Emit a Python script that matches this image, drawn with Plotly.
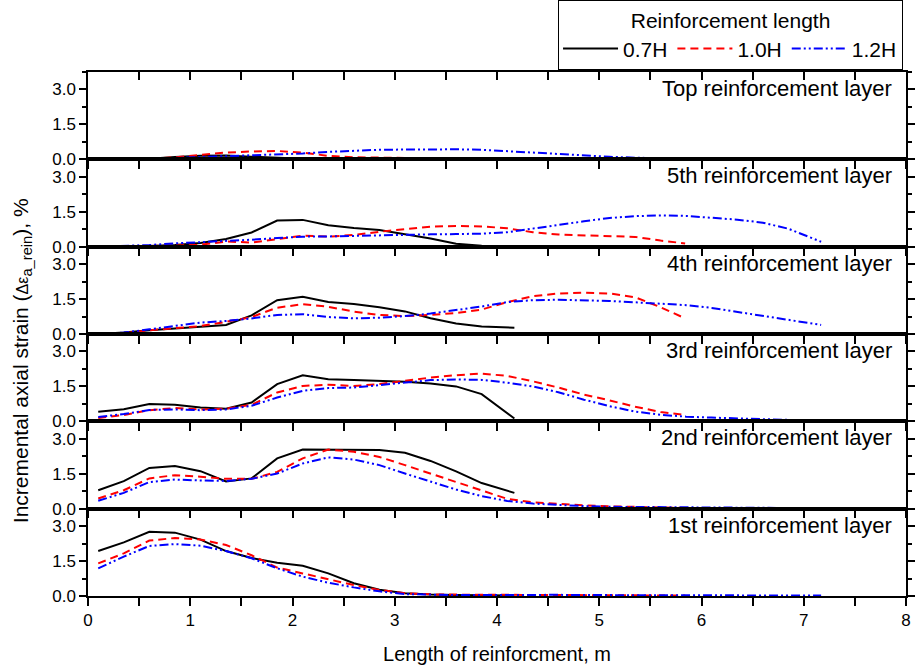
import plotly.graph_objects as go
from plotly.subplots import make_subplots

# Positions along the reinforcement (m) for each reinforcement length
X_07H = [0.1, 0.35, 0.6, 0.85, 1.1, 1.35, 1.6, 1.85, 2.1, 2.35, 2.6, 2.85, 3.1, 3.35, 3.6, 3.85, 4.17]
X_10H = X_07H[:-1] + [4.1, 4.35, 4.6, 4.85, 5.1, 5.35, 5.6, 5.84]
X_12H = X_07H[:-1] + [4.1, 4.35, 4.6, 4.85, 5.1, 5.35, 5.6, 5.85, 6.1, 6.35, 6.6, 6.85, 7.17]

SERIES = ["0.7H", "1.0H", "1.2H"]
LAYER_NAMES = ["Top reinforcement layer", "5th reinforcement layer", "4th reinforcement layer",
               "3rd reinforcement layer", "2nd reinforcement layer", "1st reinforcement layer"]

# Incremental axial strain (%) -- top layer
TOP_07H = [0.0, 0.0, 0.02, 0.10, 0.15, 0.16, 0.11, 0.05, 0.02, 0.01, 0.01, 0.03, 0.05, 0.03, 0.01, 0.0, 0.0]
TOP_10H = [0.0, 0.0, 0.02, 0.09, 0.20, 0.29, 0.34, 0.36, 0.29, 0.15, 0.09, 0.07, 0.06, 0.04, 0.02, 0.01,
           0.01, 0.01, 0.01, 0.02, 0.04, 0.06, 0.07, 0.06]
TOP_12H = [0.0, 0.0, 0.02, 0.06, 0.10, 0.13, 0.16, 0.20, 0.25, 0.32, 0.38, 0.41, 0.42, 0.43, 0.43, 0.41,
           0.35, 0.27, 0.20, 0.15, 0.11, 0.07, 0.04, 0.01, 0.0, 0.0, None, None, None]

# 5th layer
L5_07H = [0.0, 0.0, 0.03, 0.07, 0.16, 0.33, 0.61, 1.12, 1.15, 0.92, 0.80, 0.72, 0.55, 0.35, 0.13, 0.04, 0.02]
L5_10H = [0.0, 0.0, 0.03, 0.05, 0.08, 0.22, 0.18, 0.32, 0.47, 0.43, 0.50, 0.64, 0.76, 0.86, 0.89, 0.87,
          0.79, 0.62, 0.52, 0.49, 0.47, 0.42, 0.26, 0.14]
L5_12H = [0.0, 0.02, 0.07, 0.14, 0.19, 0.23, 0.30, 0.37, 0.43, 0.44, 0.47, 0.50, 0.51, 0.53, 0.54, 0.56,
          0.62, 0.76, 0.93, 1.09, 1.23, 1.31, 1.34, 1.32, 1.25, 1.16, 1.03, 0.77, 0.21]

# 4th layer
L4_07H = [0.0, 0.06, 0.16, 0.24, 0.31, 0.39, 0.80, 1.45, 1.60, 1.37, 1.29, 1.15, 0.97, 0.68, 0.45, 0.32, 0.27]
L4_10H = [0.0, 0.03, 0.16, 0.24, 0.34, 0.52, 0.73, 1.13, 1.28, 1.17, 0.96, 0.82, 0.77, 0.82, 0.90, 1.05,
          1.37, 1.62, 1.74, 1.77, 1.74, 1.58, 1.15, 0.67]
L4_12H = [0.0, 0.06, 0.20, 0.34, 0.49, 0.56, 0.67, 0.82, 0.85, 0.73, 0.67, 0.70, 0.77, 0.88, 1.02, 1.18,
          1.37, 1.45, 1.47, 1.46, 1.42, 1.36, 1.30, 1.24, 1.12, 0.95, 0.78, 0.62, 0.39]

# 3rd layer
L3_07H = [0.41, 0.52, 0.74, 0.71, 0.59, 0.54, 0.81, 1.60, 1.98, 1.81, 1.78, 1.74, 1.70, 1.62, 1.50, 1.17, 0.12]
L3_10H = [0.14, 0.27, 0.48, 0.57, 0.51, 0.54, 0.71, 1.24, 1.52, 1.57, 1.52, 1.60, 1.74, 1.88, 1.98, 2.05,
          1.95, 1.72, 1.45, 1.15, 0.90, 0.63, 0.40, 0.27]
L3_12H = [0.19, 0.31, 0.49, 0.51, 0.48, 0.51, 0.67, 1.02, 1.31, 1.43, 1.45, 1.55, 1.67, 1.77, 1.80, 1.78,
          1.66, 1.50, 1.25, 0.93, 0.65, 0.42, 0.28, 0.20, 0.16, 0.12, 0.09, 0.06, 0.02]

# 2nd layer
L2_07H = [0.79, 1.18, 1.75, 1.83, 1.61, 1.17, 1.30, 2.16, 2.54, 2.54, 2.54, 2.52, 2.40, 2.05, 1.60, 1.10, 0.68]
L2_10H = [0.44, 0.79, 1.30, 1.44, 1.37, 1.28, 1.28, 1.58, 2.16, 2.54, 2.44, 2.22, 1.87, 1.51, 1.15, 0.80,
          0.42, 0.27, 0.19, 0.14, 0.10, 0.07, 0.05, 0.03]
L2_12H = [0.34, 0.68, 1.14, 1.25, 1.21, 1.19, 1.28, 1.51, 1.94, 2.20, 2.11, 1.87, 1.51, 1.15, 0.82, 0.54,
          0.33, 0.22, 0.15, 0.11, 0.08, 0.07, 0.06, 0.05, 0.04, 0.04, 0.03, 0.03, 0.02]

# 1st (bottom) layer
L1_07H = [1.93, 2.30, 2.76, 2.72, 2.42, 1.93, 1.63, 1.43, 1.30, 0.97, 0.55, 0.27, 0.12, 0.06, 0.04, 0.03, 0.02]
L1_10H = [1.40, 1.83, 2.38, 2.49, 2.43, 2.19, 1.75, 1.22, 0.97, 0.72, 0.47, 0.26, 0.12, 0.07, 0.05, 0.05,
          0.05, 0.05, 0.04, 0.04, 0.03, 0.03, 0.02, 0.02]
L1_12H = [1.19, 1.69, 2.15, 2.23, 2.16, 1.93, 1.62, 1.19, 0.83, 0.57, 0.37, 0.20, 0.08, 0.05, 0.04, 0.04,
          0.05, 0.06, 0.05, 0.04, 0.04, 0.03, 0.03, 0.03, 0.03, 0.02, 0.02, 0.02, 0.02]

LAYERS = [
    (TOP_07H, TOP_10H, TOP_12H),
    (L5_07H, L5_10H, L5_12H),
    (L4_07H, L4_10H, L4_12H),
    (L3_07H, L3_10H, L3_12H),
    (L2_07H, L2_10H, L2_12H),
    (L1_07H, L1_10H, L1_12H),
]
X_GRIDS = [X_07H, X_10H, X_12H]

LINE_STYLES = [
    dict(color="#000000", width=2, dash="solid"),
    dict(color="#ff0000", width=2, dash="8px,5px"),
    dict(color="#0000ff", width=2, dash="9px,3px,2px,3px,2px,3px"),
]

FONT = "Arial, Liberation Sans, sans-serif"

fig = make_subplots(rows=6, cols=1, shared_xaxes=True, vertical_spacing=0)

for row, series_values in enumerate(LAYERS, start=1):
    for k, (name, xs, ys) in enumerate(zip(SERIES, X_GRIDS, series_values)):
        fig.add_trace(
            go.Scatter(x=xs, y=ys, mode="lines", name=name, line=LINE_STYLES[k],
                       legendgroup=name, showlegend=(row == 1)),
            row=row, col=1,
        )

axis_common = dict(showline=True, linecolor="black", linewidth=1.5, showgrid=False, zeroline=False,
                   tickcolor="black", tickwidth=1.5,
                   tickfont=dict(family=FONT, size=17, color="black"))

for row in range(1, 7):
    fig.update_xaxes(row=row, col=1, range=[0, 8], dtick=1, tick0=0, mirror=True,
                     ticks="outside", ticklen=8,
                     minor=dict(dtick=0.5, ticks="outside", ticklen=8, tickwidth=1.5, tickcolor="black"),
                     **axis_common)
    fig.update_yaxes(row=row, col=1, range=[0, 3.75], tickvals=[0, 1.5, 3.0],
                     ticktext=["0.0", "1.5", "3.0"], mirror="ticks", ticks="outside", ticklen=7,
                     minor=dict(dtick=0.75, tick0=0, ticks="outside", ticklen=4, tickwidth=1.5,
                                tickcolor="black"),
                     **axis_common)

fig.update_xaxes(row=6, col=1, title=dict(text="Length of reinforcment, m",
                                           font=dict(family=FONT, size=20, color="black"), standoff=18))

# inward ticks along the upper edge of the top panel
fig.add_trace(go.Scatter(x=[None], y=[None], xaxis="x7", yaxis="y", showlegend=False, hoverinfo="skip"))
fig.update_layout(xaxis7=dict(overlaying="x", anchor="y", side="top", range=[0, 8], dtick=1, tick0=0,
                              ticks="inside", ticklen=8, tickwidth=1.5, tickcolor="black",
                              showticklabels=False, showline=False, showgrid=False, zeroline=False,
                              minor=dict(dtick=0.5, ticks="inside", ticklen=8, tickwidth=1.5,
                                         tickcolor="black")))

for row, label in enumerate(LAYER_NAMES, start=1):
    suffix = "" if row == 1 else str(row)
    fig.add_annotation(text=label, xref=f"x{suffix} domain", yref=f"y{suffix} domain",
                       x=0.985, y=0.81, xanchor="right", yanchor="middle", showarrow=False,
                       font=dict(family=FONT, size=22, color="black"))

fig.add_annotation(
    text="Incremental axial strain (<span style='font-size:16px'>Δε</span><sub>a_rein</sub>), %",
    xref="paper", yref="paper", x=-0.0807, y=0.45, textangle=-90, showarrow=False,
    xanchor="center", yanchor="middle", font=dict(family=FONT, size=21, color="black"))

fig.update_layout(
    width=918, height=669,
    margin=dict(l=88, r=12, t=72, b=73, autoexpand=False),
    paper_bgcolor="white", plot_bgcolor="white",
    font=dict(family=FONT, color="black"),
    legend=dict(title=dict(text="Reinforcement length", side="top center",
                           font=dict(family=FONT, size=21, color="black")),
                orientation="h", xref="container", yref="container",
                x=0.9837, xanchor="right", y=1.0, yanchor="top",
                bordercolor="black", borderwidth=1, bgcolor="white",
                font=dict(family=FONT, size=21, color="black"),
                itemwidth=55, tracegroupgap=0),
)

fig.write_html("out.html")
